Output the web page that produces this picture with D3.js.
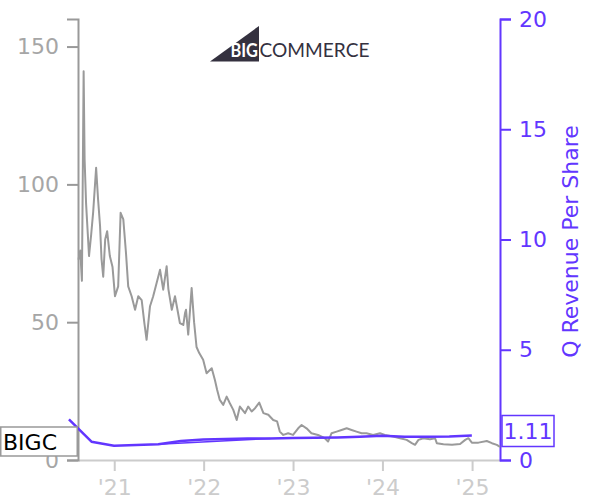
<!DOCTYPE html>
<html>
<head>
<meta charset="utf-8">
<script src="https://cdn.jsdelivr.net/npm/d3@7"></script>
<style>
  html, body { margin: 0; padding: 0; background: #fff; }
  svg { display: block; font-family: "DejaVu Sans", sans-serif; }
</style>
</head>
<body>
<svg id="chart" width="600" height="500"></svg>
<script>
// ---- data ----
const ticker = "BIGC";
const lastRevenueLabel = "1.11";
const rightAxisTitle = "Q Revenue Per Share";
const yearTickDates = ["2021-01-01", "2022-01-01", "2023-01-01", "2024-01-01", "2025-01-01"];
const yearTickLabels = ["'21", "'22", "'23", "'24", "'25"];
const leftTicks = [0, 50, 100, 150];
const rightTicks = [0, 5, 10, 15, 20];

const priceDates = [
  "2020-08-08","2020-08-15","2020-08-22","2020-08-29","2020-09-02","2020-09-08","2020-09-15","2020-09-20",
  "2020-09-29","2020-10-07","2020-10-19","2020-10-27","2020-11-04","2020-11-10","2020-11-17","2020-11-25",
  "2020-12-03","2020-12-14","2020-12-25","2021-01-04","2021-01-17","2021-01-27","2021-02-07","2021-02-18",
  "2021-02-27","2021-03-13","2021-03-27","2021-04-09","2021-04-23","2021-05-04","2021-05-13","2021-05-27",
  "2021-06-09","2021-06-23","2021-07-07","2021-07-20","2021-08-03","2021-08-10","2021-08-24","2021-09-06",
  "2021-09-26","2021-10-10","2021-10-17","2021-10-21","2021-10-30","2021-11-13","2021-11-23","2021-12-03",
  "2021-12-14","2021-12-30","2022-01-13","2022-02-03","2022-02-16","2022-02-25","2022-03-08","2022-03-22",
  "2022-04-05","2022-04-18","2022-05-02","2022-05-16","2022-05-29","2022-06-19","2022-07-02","2022-07-16",
  "2022-07-30","2022-08-16","2022-09-02","2022-09-22","2022-10-12","2022-10-28","2022-11-08","2022-11-22",
  "2022-12-12","2023-01-01","2023-01-22","2023-02-05","2023-02-25","2023-03-17","2023-04-13","2023-05-11",
  "2023-05-24","2023-06-07","2023-06-28","2023-07-18","2023-08-08","2023-08-28","2023-09-17","2023-10-08",
  "2023-10-28","2023-11-24","2023-12-22","2024-01-11","2024-02-14","2024-03-13","2024-04-09","2024-04-30",
  "2024-05-13","2024-05-27","2024-06-16","2024-07-13","2024-08-03","2024-08-10","2024-09-06","2024-10-11",
  "2024-11-13","2024-12-04","2024-12-17","2024-12-31","2025-01-27","2025-03-02","2025-03-23","2025-04-12",
  "2025-04-25"
];
const priceValues = [
  72.7, 76, 65, 141, 109, 93, 82, 74,
  82, 90, 106, 94.5, 85, 73, 66.5, 80,
  83, 74, 70, 59.4, 63, 89.7, 87.3, 75,
  63, 59.4, 54.5, 59.4, 58, 49.7, 43.6, 55.8,
  59.4, 64.2, 69, 61.8, 70.3, 62, 54.5, 59.4,
  49.7, 49, 53.3, 54.5, 45.5, 62.4, 50, 41,
  38.8, 36.4, 31.5, 33.3, 29, 25.5, 21.8, 20,
  23, 20.6, 18.2, 14.5, 19.4, 17, 19.4, 17.6,
  18.8, 20.8, 17, 16.4, 14.5, 14, 10.3, 9.1,
  9.7, 9.1, 11.5, 12.7, 11.5, 9.7, 9.1, 7.9,
  6.7, 9.7, 10.3, 10.9, 11.5, 10.9, 10.3, 9.7,
  9.7, 9.1, 9.7, 9.1, 8.5, 7.9, 7.3, 6.1,
  5.5, 7.3, 7.9, 7.5, 7.9, 6.1, 5.7, 5.5,
  5.8, 7.3, 7.9, 6.3, 6.3, 6.9, 6.1, 5.5,
  4.8
];

const revenueDates = [
  "2020-06-30","2020-09-30","2020-12-31","2021-03-31","2021-06-30","2021-09-30","2021-12-31",
  "2022-03-31","2022-06-30","2022-09-30","2022-12-31","2023-03-31","2023-06-30","2023-09-30",
  "2023-12-31","2024-03-31","2024-06-30","2024-09-30","2024-12-31"
];
const revenueValues = [
  1.84, 0.83, 0.65, 0.68, 0.71, 0.86, 0.93,
  0.95, 0.97, 0.98, 1.00, 1.01, 1.02, 1.05,
  1.10, 1.05, 1.06, 1.07, 1.11
];
// second, straight revenue trace visible under the first in 2021-2022
const revenueAltDates = ["2021-06-30", "2022-09-30"];
const revenueAltValues = [0.71, 0.98];

// ---- chart ----
const parse = d3.utcParse("%Y-%m-%d");
const svg = d3.select("#chart");
const m = { left: 78, right: 500, top: 19, bottom: 460 };
const grayAxis = "#999999";
const purple = "#6236ff";

const x = d3.scaleUtc().domain([parse("2020-08-06"), parse("2025-04-25")]).range([m.left, m.right]);
const yL = d3.scaleLinear().domain([0, 160]).range([m.bottom, m.top]);
const yR = d3.scaleLinear().domain([0, 20]).range([m.bottom, m.top]);

// logo
const logo = svg.append("g").attr("class", "logo");
logo.append("path").attr("d", "M210,61.5 L259,26 L259,61.5 Z").attr("fill", "#34313f");
const logoText = logo.append("text").attr("y", 57)
  .attr("font-family", "Lato, 'Open Sans', sans-serif").attr("font-size", 19);
logoText.append("tspan").attr("x", 230.5).attr("fill", "#fff").attr("font-weight", 700)
  .attr("textLength", 27.5).attr("lengthAdjust", "spacingAndGlyphs").text("BIG");
logoText.append("tspan").attr("x", 259.5).attr("fill", "#34313f").attr("font-weight", 400)
  .attr("textLength", 110).attr("lengthAdjust", "spacingAndGlyphs").text("COMMERCE");

// x axis
const gx = svg.append("g").attr("transform", `translate(0,${m.bottom})`)
  .call(d3.axisBottom(x).tickValues(yearTickDates.map(parse))
    .tickFormat((d, i) => yearTickLabels[i]).tickSizeInner(11).tickSizeOuter(0).tickPadding(8));
gx.select(".domain").attr("stroke", "#cccccc").attr("stroke-width", 2);
gx.selectAll(".tick line").attr("stroke", "#cccccc").attr("stroke-width", 2);
gx.selectAll(".tick text").attr("fill", "#cccccc").attr("font-size", 22)
  .attr("font-family", "DejaVu Sans, sans-serif");

// left axis
const gl = svg.append("g").attr("transform", `translate(${m.left},0)`)
  .call(d3.axisLeft(yL).tickValues(leftTicks).tickSizeInner(11).tickSizeOuter(11).tickPadding(8));
gl.select(".domain").attr("stroke", grayAxis).attr("stroke-width", 2);
gl.selectAll(".tick line").attr("stroke", grayAxis).attr("stroke-width", 2);
gl.selectAll(".tick text").attr("fill", "#a6a6a6").attr("font-size", 22)
  .attr("font-family", "DejaVu Sans, sans-serif");

// right axis
const gr = svg.append("g").attr("transform", `translate(${m.right},0)`)
  .call(d3.axisRight(yR).tickValues(rightTicks).tickSizeInner(11).tickSizeOuter(11).tickPadding(8));
gr.select(".domain").attr("stroke", purple).attr("stroke-width", 2);
gr.selectAll(".tick line").attr("stroke", purple).attr("stroke-width", 2);
gr.selectAll(".tick text").attr("fill", purple).attr("font-size", 22)
  .attr("font-family", "DejaVu Sans, sans-serif");

svg.append("text")
  .attr("transform", `translate(578,${(m.top + m.bottom) / 2 + 2}) rotate(-90)`)
  .attr("text-anchor", "middle").attr("fill", purple).attr("font-size", 22)
  .text(rightAxisTitle);

// price line
const price = priceDates.map((d, i) => ({ date: parse(d), value: priceValues[i] }));
svg.append("path").datum(price)
  .attr("fill", "none").attr("stroke", "#9a9a9a").attr("stroke-width", 2)
  .attr("stroke-linejoin", "round")
  .attr("d", d3.line().x(d => x(d.date)).y(d => yL(d.value)));

// revenue lines
const revLine = d3.line().x(d => x(d.date)).y(d => yR(d.value));
const revenueAlt = revenueAltDates.map((d, i) => ({ date: parse(d), value: revenueAltValues[i] }));
svg.append("path").datum(revenueAlt)
  .attr("fill", "none").attr("stroke", purple).attr("stroke-width", 1.5)
  .attr("d", revLine);
const revenue = revenueDates.map((d, i) => ({ date: parse(d), value: revenueValues[i] }));
svg.append("path").datum(revenue)
  .attr("fill", "none").attr("stroke", purple).attr("stroke-width", 2.5)
  .attr("stroke-linejoin", "round")
  .attr("d", revLine);

// ticker box
const tb = svg.append("g");
tb.append("rect").attr("x", 0.75).attr("y", 427).attr("width", 76.5).attr("height", 29)
  .attr("fill", "#fff").attr("stroke", grayAxis).attr("stroke-width", 1.5);
tb.append("text").attr("x", 3).attr("y", 449.5).attr("fill", "#000").attr("font-size", 22).text(ticker);

// last value box
const vb = svg.append("g");
vb.append("rect").attr("x", 502).attr("y", 415.5).attr("width", 52).attr("height", 31)
  .attr("fill", "#fff").attr("stroke", purple).attr("stroke-width", 1.5);
vb.append("text").attr("x", 528).attr("y", 439).attr("text-anchor", "middle")
  .attr("fill", purple).attr("font-size", 22).text(lastRevenueLabel);
</script>
</body>
</html>
